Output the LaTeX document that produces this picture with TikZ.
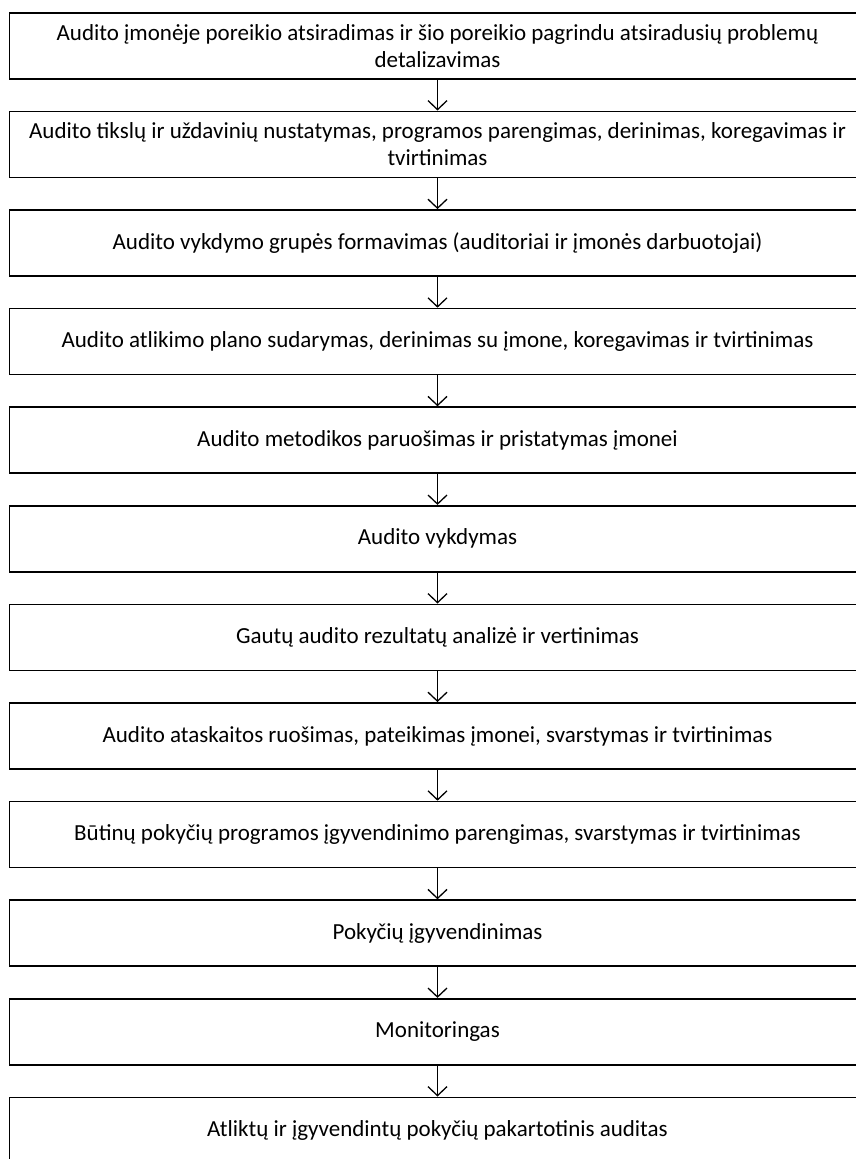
\documentclass[tikz,border=0pt]{standalone}
\usepackage{fontspec}
\setmainfont{Carlito}
\usetikzlibrary{arrows.meta}
\tikzset{
  stepbox/.style={draw=black, line width=1.6pt, minimum width=856pt, minimum height=66pt,
    inner sep=0pt, align=center, font=\fontsize{23pt}{27pt}\selectfont},
  flow/.style={draw=black, line width=1.3pt, -{Straight Barb[length=9pt,width=19pt,line width=1.3pt]}}
}
\begin{document}
\begin{tikzpicture}[x=1pt,y=-1pt]
\useasboundingbox (0,0) rectangle (856,1159);
\clip (0,0) rectangle (856,1159);
\fill[white] (0,0) rectangle (856,1159);
\def\bx{437.5}
\node[stepbox] (b1)  at (\bx, {12.7+33+0*98.6}) {Audito įmonėje poreikio atsiradimas ir šio poreikio pagrindu atsiradusių problemų\\detalizavimas};
\node[stepbox] (b2)  at (\bx, {12.7+33+1*98.6}) {Audito tikslų ir uždavinių nustatymas, programos parengimas, derinimas, koregavimas ir\\tvirtinimas};
\node[stepbox] (b3)  at (\bx, {12.7+33+2*98.6}) {Audito vykdymo grupės formavimas (auditoriai ir įmonės darbuotojai)};
\node[stepbox] (b4)  at (\bx, {12.7+33+3*98.6}) {Audito atlikimo plano sudarymas, derinimas su įmone, koregavimas ir tvirtinimas};
\node[stepbox] (b5)  at (\bx, {12.7+33+4*98.6}) {Audito metodikos paruošimas ir pristatymas įmonei};
\node[stepbox] (b6)  at (\bx, {12.7+33+5*98.6}) {Audito vykdymas};
\node[stepbox] (b7)  at (\bx, {12.7+33+6*98.6}) {Gautų audito rezultatų analizė ir vertinimas};
\node[stepbox] (b8)  at (\bx, {12.7+33+7*98.6}) {Audito ataskaitos ruošimas, pateikimas įmonei, svarstymas ir tvirtinimas};
\node[stepbox] (b9)  at (\bx, {12.7+33+8*98.6}) {Būtinų pokyčių programos įgyvendinimo parengimas, svarstymas ir tvirtinimas};
\node[stepbox] (b10) at (\bx, {12.7+33+9*98.6}) {Pokyčių įgyvendinimas};
\node[stepbox] (b11) at (\bx, {12.7+33+10*98.6}) {Monitoringas};
\node[stepbox] (b12) at (\bx, {12.7+33+11*98.6}) {Atliktų ir įgyvendintų pokyčių pakartotinis auditas};
\foreach \a/\b in {b1/b2,b2/b3,b3/b4,b4/b5,b5/b6,b6/b7,b7/b8,b8/b9,b9/b10,b10/b11,b11/b12}
  \draw[flow] (\a.south) -- (\b.north);
\end{tikzpicture}
\end{document}
